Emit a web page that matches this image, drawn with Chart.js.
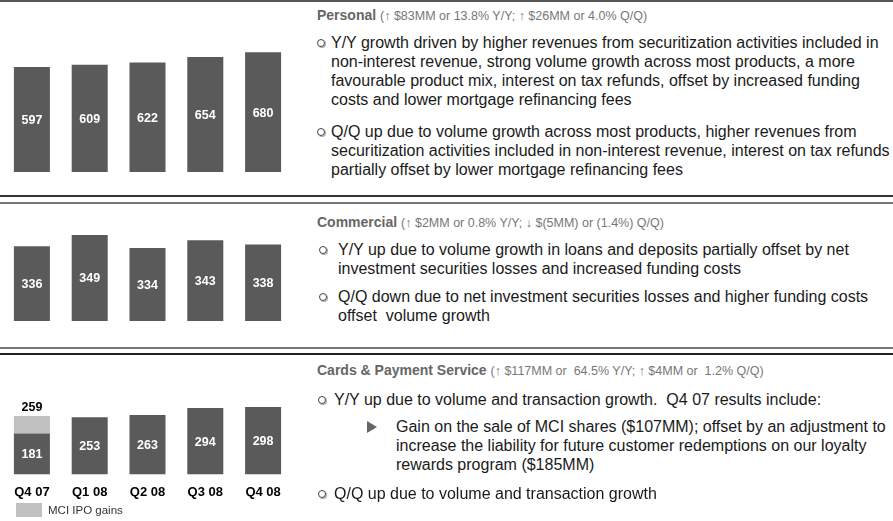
<!DOCTYPE html>
<html>
<head>
<meta charset="utf-8">
<script src="https://cdn.jsdelivr.net/npm/chart.js@4.4.1/dist/chart.umd.min.js"></script>
<style>
  html, body { margin: 0; padding: 0; background: #fff; overflow: hidden; }
  body { width: 893px; height: 521px; position: relative; font-family: "Liberation Sans", Arial, sans-serif; }
  canvas { position: absolute; left: 0; }
  .rule { position: absolute; left: 0; width: 893px; }
  .txt { position: absolute; white-space: nowrap; color: #1a1a1a; font-size: 16px; line-height: 19px; }
  .head { position: absolute; left: 317px; white-space: nowrap; color: #666; font-size: 14px; font-weight: bold; }
  .head span { font-weight: normal; font-size: 12.5px; color: #777; }
  .dot { position: absolute; width: 6px; height: 6px; border: 1px solid #444; border-radius: 50%; box-shadow: 1px 1px 0 #aaa; }
  .tri { position: absolute; width: 0; height: 0; border-top: 6px solid transparent; border-bottom: 6px solid transparent; border-left: 10px solid #666; }
  #legend { position: absolute; left: 16px; top: 503px; font-size: 11.5px; color: #333; line-height: 14px; }
  #legend i { display: inline-block; width: 26px; height: 14px; background: #c0c0c0; vertical-align: top; margin-right: 6px; }
</style>
</head>
<body>
<div class="rule" style="top:0;height:2px;background:#555"></div>
<div class="rule" style="top:195px;height:1.5px;background:#333"></div>
<div class="rule" style="top:202px;height:1.5px;background:#777"></div>
<div class="rule" style="top:347px;height:1.5px;background:#777"></div>
<div class="rule" style="top:353px;height:2px;background:#222"></div>

<canvas id="chart1" width="295" height="152" style="top:20px"></canvas>
<canvas id="chart2" width="295" height="106" style="top:215px"></canvas>
<canvas id="chart3" width="295" height="135" style="top:375px"></canvas>
<div id="legend"><i></i>MCI IPO gains</div>

<div class="head" style="top:7px">Personal <span>(&#8593; $83MM or 13.8% Y/Y; &#8593; $26MM or 4.0% Q/Q)</span></div>
<div class="dot" style="left:317px;top:39px"></div>
<div class="txt" style="left:331px;top:33px">Y/Y growth driven by higher revenues from securitization activities included in<br>non-interest revenue, strong volume growth across most products, a more<br>favourable product mix, interest on tax refunds, offset by increased funding<br>costs and lower mortgage refinancing fees</div>
<div class="dot" style="left:317px;top:128px"></div>
<div class="txt" style="left:331px;top:122px">Q/Q up due to volume growth across most products, higher revenues from<br>securitization activities included in non-interest revenue, interest on tax refunds<br>partially offset by lower mortgage refinancing fees</div>

<div class="head" style="top:214px">Commercial <span>(&#8593; $2MM or 0.8% Y/Y; &#8595; $(5MM) or (1.4%) Q/Q)</span></div>
<div class="dot" style="left:319px;top:246px"></div>
<div class="txt" style="left:338px;top:240px">Y/Y up due to volume growth in loans and deposits partially offset by net<br>investment securities losses and increased funding costs</div>
<div class="dot" style="left:319px;top:293px"></div>
<div class="txt" style="left:338px;top:287px">Q/Q down due to net investment securities losses and higher funding costs<br>offset&nbsp; volume growth</div>

<div class="head" style="top:362px">Cards &amp; Payment Service <span>(&#8593; $117MM or&nbsp; 64.5% Y/Y; &#8593; $4MM or&nbsp; 1.2% Q/Q)</span></div>
<div class="dot" style="left:318px;top:396px"></div>
<div class="txt" style="left:334px;top:390px">Y/Y up due to volume and transaction growth.&nbsp; Q4 07 results include:</div>
<div class="tri" style="left:367px;top:421px"></div>
<div class="txt" style="left:396px;top:417px">Gain on the sale of MCI shares ($107MM); offset by an adjustment to<br>increase the liability for future customer redemptions on our loyalty<br>rewards program ($185MM)</div>
<div class="dot" style="left:318px;top:490px"></div>
<div class="txt" style="left:334px;top:484px">Q/Q up due to volume and transaction growth</div>

<script>
// quarters shown under the bottom chart
const quarters = ["Q4 07", "Q1 08", "Q2 08", "Q3 08", "Q4 08"];

// revenue by segment ($MM)
const personal = [597, 609, 622, 654, 680];
const commercial = [336, 349, 334, 343, 338];
const cardsBase = [181, 253, 263, 294, 298];
const mciGains = [78, 0, 0, 0, 0]; // Q4 07 total = 259

const barDark = "#5a5a5a";
const barLight = "#c0c0c0";

// writes the values on the bars (white, centred) and the total above a stacked bar
const valueLabels = {
  id: "valueLabels",
  afterDatasetsDraw(chart) {
    const ctx = chart.ctx;
    const bottom = chart.chartArea.bottom;
    ctx.save();
    ctx.font = "bold 12.5px 'Liberation Sans', Arial, sans-serif";
    ctx.textAlign = "center";
    chart.getDatasetMeta(0).data.forEach((bar, i) => {
      ctx.fillStyle = "#fff";
      ctx.textBaseline = "middle";
      const base = Math.min(bar.base, bottom);
      ctx.fillText(chart.data.datasets[0].data[i], bar.x, (bar.y + base) / 2 + 1);
    });
    if (chart.data.datasets.length > 1) {
      chart.getDatasetMeta(1).data.forEach((bar, i) => {
        const extra = chart.data.datasets[1].data[i];
        if (!extra) return;
        ctx.fillStyle = "#000";
        ctx.textBaseline = "bottom";
        ctx.fillText(chart.data.datasets[0].data[i] + extra, bar.x, bar.y - 2);
      });
    }
    ctx.restore();
  }
};

function barChart(id, datasets, yMin, yMax, withAxis) {
  const ctx = document.getElementById(id).getContext("2d");
  return new Chart(ctx, {
    type: "bar",
    data: { labels: quarters, datasets: datasets },
    plugins: [valueLabels],
    options: {
      responsive: false,
      animation: false,
      layout: { padding: { left: 3, right: 3, top: 0, bottom: 0 } },
      plugins: {
        tooltip: { enabled: false },
        legend: { display: false }
      },
      scales: {
        x: {
          display: withAxis,
          stacked: true,
          grid: { display: false, drawTicks: false },
          border: { display: false },
          ticks: {
            padding: 10,
            color: "#000",
            font: { family: "'Liberation Sans', Arial, sans-serif", size: 13, weight: "bold" }
          }
        },
        y: { display: false, stacked: true, min: yMin, max: yMax }
      }
    }
  });
}

function ds(label, values, color) {
  return { label: label, data: values, backgroundColor: color, categoryPercentage: 1, barPercentage: 0.623 };
}

barChart("chart1", [ds("Personal", personal, barDark)], 0, 864, false);
barChart("chart2", [ds("Commercial", commercial, barDark)], 250, 372, false);
barChart("chart3", [ds("Cards & Payment Service", cardsBase, barDark), ds("MCI IPO gains", mciGains, barLight)], 0, 440, true);
</script>
</body>
</html>
